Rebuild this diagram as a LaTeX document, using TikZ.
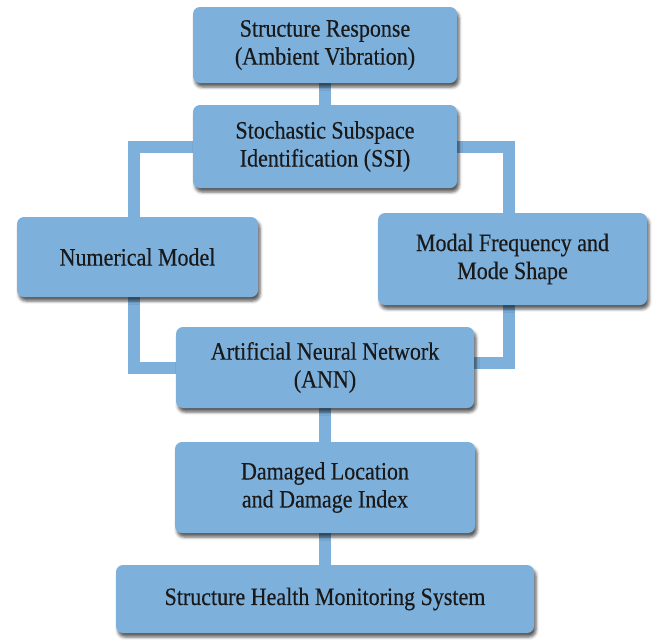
\documentclass[tikz,border=0pt]{standalone}
\usepackage{fontspec}
\setmainfont{Liberation Serif}[FakeStretch=0.88, FakeBold=0.4]
\usetikzlibrary{shapes, shadows.blur, backgrounds}
\definecolor{boxblue}{RGB}{126,176,220}

\begin{document}
\begin{tikzpicture}
	  [node distance = 110pt, auto,
	  %
	  block/.style={rectangle, fill=boxblue, text=black!90, align=center, rounded corners=7pt, inner sep=0pt, font=\fontsize{25}{28}\selectfont, blur shadow={shadow xshift=2pt, shadow yshift=-4pt, shadow blur radius=3pt, shadow opacity=65}},
	  %
	  customline/.style={draw=boxblue, line width=12pt}]

	    \useasboundingbox (0,0) rectangle (658pt,-643pt);

	    \node [block, minimum width=264pt, minimum height=76pt] (resp) at (325pt,-45pt) {Structure Response\\(Ambient Vibration)};
	    \node [block, below of=resp, yshift=8.5pt, minimum width=264pt, minimum height=83pt] (ssi) {Stochastic Subspace\\Identification (SSI)};
	    \node [block, below of=ssi, xshift=-187.5pt, yshift=-0.5pt, minimum width=241pt, minimum height=80pt] (num) {Numerical Model};
	    \node [block, below of=ssi, xshift=187.5pt, yshift=-2.5pt, minimum width=269pt, minimum height=92pt] (modal) {Modal Frequency and\\Mode Shape};
	    \node [block, below of=ssi, yshift=-111pt, minimum width=298pt, minimum height=81pt] (ann) {Artificial Neural Network\\(ANN)};
	    \node [block, below of=ann, yshift=-10pt, minimum width=300pt, minimum height=91pt] (dmg) {Damaged Location\\and Damage Index};
	    \node [block, below of=dmg, yshift=-1.5pt, minimum width=418pt, minimum height=68pt] (shm) {Structure Health Monitoring System};

	    \begin{scope}[on background layer]
	    \draw [customline] (resp) -- (ssi);
	    \draw [customline] (ssi) -| ([xshift=-4pt]num.north);
	    \draw [customline] ([xshift=-4pt]num.south) |- (ann);
	    \draw [customline] (ssi) -| ([xshift=-4pt]modal.north);
	    \draw [customline] ([xshift=-4pt]modal.south) |- ([yshift=5pt]ann.east);
	    \draw [customline] (ann) -- (dmg);
	    \draw [customline] (dmg) -- (shm);
	    \end{scope}
	  \end{tikzpicture}
\end{document}
